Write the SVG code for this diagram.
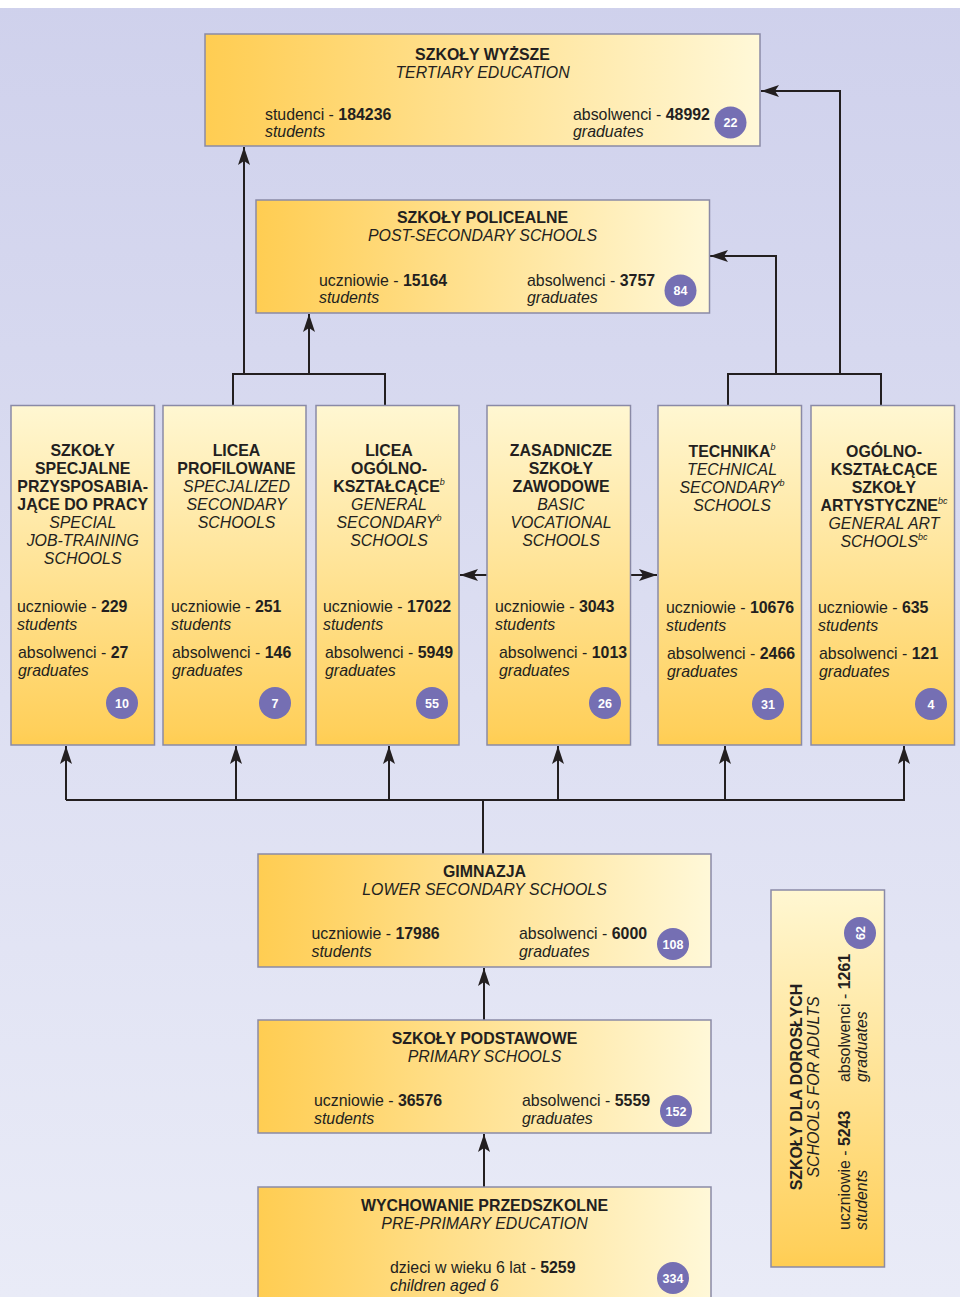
<svg xmlns="http://www.w3.org/2000/svg" width="960" height="1297" viewBox="0 0 960 1297">
<defs>
<linearGradient id="bgG" x1="0" y1="0" x2="0" y2="1">
<stop offset="0" stop-color="#cfd1ec"/>
<stop offset="1" stop-color="#e9ebf7"/>
</linearGradient>
<linearGradient id="hG" x1="0" y1="0" x2="1" y2="0">
<stop offset="0" stop-color="#ffcd52"/>
<stop offset="0.08" stop-color="#ffd05c"/>
<stop offset="1" stop-color="#fff8d8"/>
</linearGradient>
<linearGradient id="vG" x1="0" y1="0" x2="0" y2="1">
<stop offset="0" stop-color="#fff7d2"/>
<stop offset="0.95" stop-color="#ffd05c"/>
<stop offset="1" stop-color="#ffcd52"/>
</linearGradient>
<marker id="arr" viewBox="-18 -7 19 14" refX="0" refY="0" markerWidth="19" markerHeight="14" markerUnits="userSpaceOnUse" orient="auto">
<path d="M0,0 L-18,-6 L-14,0 L-18,6 Z" fill="#231f20"/>
</marker>
<style>
.box{stroke:#8a8aa6;stroke-width:1.5}
.h{fill:url(#hG)}
.v{fill:url(#vG)}
text{font-family:"Liberation Sans",Arial,Helvetica,sans-serif;font-size:15.9px;fill:#231f20}
.b{font-weight:bold}
.i{font-style:italic}
.c{text-anchor:middle}
.sup{font-size:9px;font-style:italic;font-weight:normal}
.bd circle{fill:#756fb3}
.bd text{fill:#ffffff;font-weight:bold;font-size:12.5px;text-anchor:middle}
.cn{stroke:#231f20;stroke-width:2;fill:none}
</style>
</defs>
<rect x="0" y="0" width="960" height="1297" fill="url(#bgG)"/>
<rect x="0" y="0" width="960" height="8" fill="#ffffff"/>

<g id="connectors">
<path class="cn" d="M244,374 V147" marker-end="url(#arr)"/>
<path class="cn" d="M309,374 V314" marker-end="url(#arr)"/>
<path class="cn" d="M233,405 V374 H385 V405"/>
<path class="cn" d="M728,405 V374 H881 V405"/>
<path class="cn" d="M776,374 V256 H710" marker-end="url(#arr)"/>
<path class="cn" d="M840,374 V91 H761" marker-end="url(#arr)"/>
<path class="cn" d="M487,575 H460" marker-end="url(#arr)"/>
<path class="cn" d="M630,575 H657" marker-end="url(#arr)"/>
<path class="cn" d="M66,800 H905"/>
<path class="cn" d="M66,800 V746" marker-end="url(#arr)"/>
<path class="cn" d="M236,800 V746" marker-end="url(#arr)"/>
<path class="cn" d="M389,800 V746" marker-end="url(#arr)"/>
<path class="cn" d="M558,800 V746" marker-end="url(#arr)"/>
<path class="cn" d="M725,800 V746" marker-end="url(#arr)"/>
<path class="cn" d="M904,800 V746" marker-end="url(#arr)"/>
<path class="cn" d="M483,800 V854"/>
<path class="cn" d="M484,1020 V968" marker-end="url(#arr)"/>
<path class="cn" d="M484,1187 V1134" marker-end="url(#arr)"/>
</g>

<g id="tertiary">
<rect class="box h" x="205" y="34" width="555" height="112"/>
<text class="b c" x="482.5" y="60">SZKOŁY WYŻSZE</text>
<text class="i c" x="482.5" y="78">TERTIARY EDUCATION</text>
<text x="265" y="120">studenci - <tspan class="b">184236</tspan></text>
<text class="i" x="265" y="137">students</text>
<text x="573" y="120">absolwenci - <tspan class="b">48992</tspan></text>
<text class="i" x="573" y="137">graduates</text>
<g class="bd"><circle cx="730.5" cy="122.5" r="16"/><text x="730.5" y="127">22</text></g>
</g>

<g id="postsecondary">
<rect class="box h" x="256" y="200" width="453.5" height="113"/>
<text class="b c" x="482.5" y="223">SZKOŁY POLICEALNE</text>
<text class="i c" x="482.5" y="241">POST-SECONDARY SCHOOLS</text>
<text x="319" y="286">uczniowie - <tspan class="b">15164</tspan></text>
<text class="i" x="319" y="303">students</text>
<text x="527" y="286">absolwenci - <tspan class="b">3757</tspan></text>
<text class="i" x="527" y="303">graduates</text>
<g class="bd"><circle cx="680.5" cy="290.5" r="16"/><text x="680.5" y="295">84</text></g>
</g>

<g id="special">
<rect class="box v" x="11" y="405.5" width="143.5" height="339.5"/>
<text class="b c" x="82.7" y="456">SZKOŁY</text>
<text class="b c" x="82.7" y="474">SPECJALNE</text>
<text class="b c" x="82.7" y="492">PRZYSPOSABIA-</text>
<text class="b c" x="82.7" y="510">JĄCE DO PRACY</text>
<text class="i c" x="82.7" y="528">SPECIAL</text>
<text class="i c" x="82.7" y="546">JOB-TRAINING</text>
<text class="i c" x="82.7" y="564">SCHOOLS</text>
<text x="17" y="612">uczniowie - <tspan class="b">229</tspan></text>
<text class="i" x="17" y="630">students</text>
<text x="18" y="658">absolwenci - <tspan class="b">27</tspan></text>
<text class="i" x="18" y="676">graduates</text>
<g class="bd"><circle cx="122" cy="703" r="16"/><text x="122" y="707.5">10</text></g>
</g>

<g id="profiled">
<rect class="box v" x="163" y="405.5" width="143" height="339.5"/>
<text class="b c" x="236.5" y="456">LICEA</text>
<text class="b c" x="236.5" y="474">PROFILOWANE</text>
<text class="i c" x="236.5" y="492">SPECJALIZED</text>
<text class="i c" x="236.5" y="510">SECONDARY</text>
<text class="i c" x="236.5" y="528">SCHOOLS</text>
<text x="171" y="612">uczniowie - <tspan class="b">251</tspan></text>
<text class="i" x="171" y="630">students</text>
<text x="172" y="658">absolwenci - <tspan class="b">146</tspan></text>
<text class="i" x="172" y="676">graduates</text>
<g class="bd"><circle cx="275" cy="703" r="16"/><text x="275" y="707.5">7</text></g>
</g>

<g id="general">
<rect class="box v" x="316" y="405.5" width="143" height="339.5"/>
<text class="b c" x="389" y="456">LICEA</text>
<text class="b c" x="389" y="474">OGÓLNO-</text>
<text class="b c" x="389" y="492">KSZTAŁCĄCE<tspan class="sup" dy="-7">b</tspan></text>
<text class="i c" x="389" y="510">GENERAL</text>
<text class="i c" x="389" y="528">SECONDARY<tspan class="sup" dy="-7">b</tspan></text>
<text class="i c" x="389" y="546">SCHOOLS</text>
<text x="323" y="612">uczniowie - <tspan class="b">17022</tspan></text>
<text class="i" x="323" y="630">students</text>
<text x="325" y="658">absolwenci - <tspan class="b">5949</tspan></text>
<text class="i" x="325" y="676">graduates</text>
<g class="bd"><circle cx="432" cy="703" r="16"/><text x="432" y="707.5">55</text></g>
</g>

<g id="vocational">
<rect class="box v" x="487" y="405.5" width="143.5" height="339.5"/>
<text class="b c" x="561" y="456">ZASADNICZE</text>
<text class="b c" x="561" y="474">SZKOŁY</text>
<text class="b c" x="561" y="492">ZAWODOWE</text>
<text class="i c" x="561" y="510">BASIC</text>
<text class="i c" x="561" y="528">VOCATIONAL</text>
<text class="i c" x="561" y="546">SCHOOLS</text>
<text x="495" y="612">uczniowie - <tspan class="b">3043</tspan></text>
<text class="i" x="495" y="630">students</text>
<text x="499" y="658">absolwenci - <tspan class="b">1013</tspan></text>
<text class="i" x="499" y="676">graduates</text>
<g class="bd"><circle cx="605" cy="703" r="16"/><text x="605" y="707.5">26</text></g>
</g>

<g id="technical">
<rect class="box v" x="658" y="405.5" width="143.5" height="339.5"/>
<text class="b c" x="732" y="457">TECHNIKA<tspan class="sup" dy="-7">b</tspan></text>
<text class="i c" x="732" y="475">TECHNICAL</text>
<text class="i c" x="732" y="493">SECONDARY<tspan class="sup" dy="-7">b</tspan></text>
<text class="i c" x="732" y="511">SCHOOLS</text>
<text x="666" y="613">uczniowie - <tspan class="b">10676</tspan></text>
<text class="i" x="666" y="631">students</text>
<text x="667" y="659">absolwenci - <tspan class="b">2466</tspan></text>
<text class="i" x="667" y="677">graduates</text>
<g class="bd"><circle cx="768" cy="704" r="16"/><text x="768" y="708.5">31</text></g>
</g>

<g id="art">
<rect class="box v" x="811" y="405.5" width="143.5" height="339.5"/>
<text class="b c" x="884" y="457">OGÓLNO-</text>
<text class="b c" x="884" y="475">KSZTAŁCĄCE</text>
<text class="b c" x="884" y="493">SZKOŁY</text>
<text class="b c" x="884" y="511">ARTYSTYCZNE<tspan class="sup" dy="-7">bc</tspan></text>
<text class="i c" x="884" y="529">GENERAL ART</text>
<text class="i c" x="884" y="547">SCHOOLS<tspan class="sup" dy="-7">bc</tspan></text>
<text x="818" y="613">uczniowie - <tspan class="b">635</tspan></text>
<text class="i" x="818" y="631">students</text>
<text x="819" y="659">absolwenci - <tspan class="b">121</tspan></text>
<text class="i" x="819" y="677">graduates</text>
<g class="bd"><circle cx="931" cy="704" r="16"/><text x="931" y="708.5">4</text></g>
</g>

<g id="lowersecondary">
<rect class="box h" x="258" y="854" width="453" height="113"/>
<text class="b c" x="484.5" y="877">GIMNAZJA</text>
<text class="i c" x="484.5" y="895">LOWER SECONDARY SCHOOLS</text>
<text x="311.5" y="939">uczniowie - <tspan class="b">17986</tspan></text>
<text class="i" x="311.5" y="957">students</text>
<text x="519" y="939">absolwenci - <tspan class="b">6000</tspan></text>
<text class="i" x="519" y="957">graduates</text>
<g class="bd"><circle cx="673" cy="944" r="16"/><text x="673" y="948.5">108</text></g>
</g>

<g id="primary">
<rect class="box h" x="258" y="1020" width="453" height="113"/>
<text class="b c" x="484.5" y="1044">SZKOŁY PODSTAWOWE</text>
<text class="i c" x="484.5" y="1062">PRIMARY SCHOOLS</text>
<text x="314" y="1106">uczniowie - <tspan class="b">36576</tspan></text>
<text class="i" x="314" y="1124">students</text>
<text x="522" y="1106">absolwenci - <tspan class="b">5559</tspan></text>
<text class="i" x="522" y="1124">graduates</text>
<g class="bd"><circle cx="676" cy="1111" r="16"/><text x="676" y="1115.5">152</text></g>
</g>

<g id="preprimary">
<rect class="box h" x="258" y="1187" width="453" height="130"/>
<text class="b c" x="484.5" y="1211">WYCHOWANIE PRZEDSZKOLNE</text>
<text class="i c" x="484.5" y="1229">PRE-PRIMARY EDUCATION</text>
<text x="390" y="1273">dzieci w wieku 6 lat - <tspan class="b">5259</tspan></text>
<text class="i" x="390" y="1291">children aged 6</text>
<g class="bd"><circle cx="673" cy="1278" r="16"/><text x="673" y="1282.5">334</text></g>
</g>

<g id="adults">
<rect class="box v" x="771" y="890" width="113.5" height="377"/>
<text class="b c" transform="translate(801.5,1087) rotate(-90)">SZKOŁY DLA DOROSŁYCH</text>
<text class="i c" transform="translate(819,1087) rotate(-90)">SCHOOLS FOR ADULTS</text>
<text transform="translate(850,1230) rotate(-90)">uczniowie - <tspan class="b">5243</tspan></text>
<text class="i" transform="translate(867,1230) rotate(-90)">students</text>
<text transform="translate(850,1082) rotate(-90)">absolwenci - <tspan class="b">1261</tspan></text>
<text class="i" transform="translate(867,1082) rotate(-90)">graduates</text>
<g class="bd"><circle cx="860" cy="933" r="16"/><text transform="translate(864.5,933) rotate(-90)">62</text></g>
</g>

<g id="corner-badge" class="bd"><circle cx="26" cy="1313" r="16"/></g>
</svg>
